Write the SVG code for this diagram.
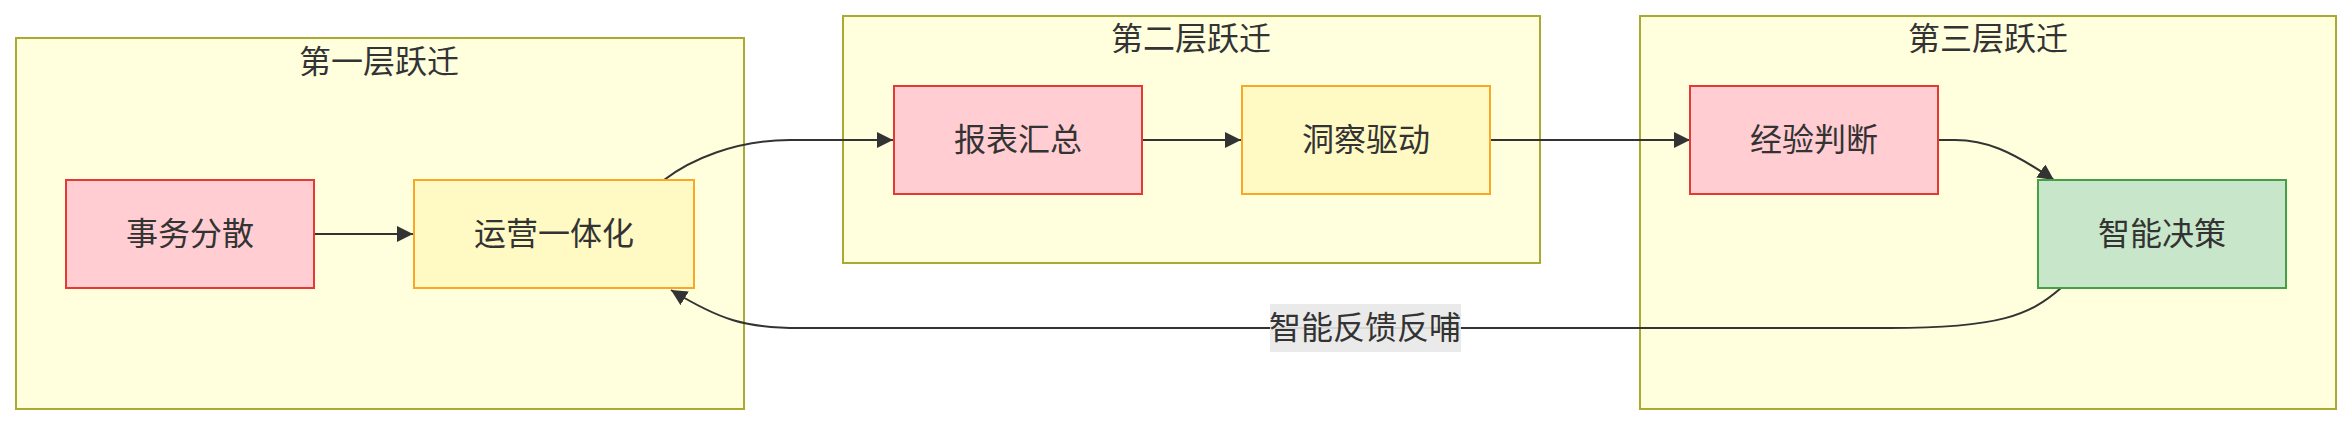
<svg xmlns="http://www.w3.org/2000/svg" width="2352" height="426" viewBox="0 0 2352 426">
<style>
.cluster{fill:#ffffde;stroke:#aaaa33;stroke-width:2}
.t{font-family:"Liberation Sans","Noto Sans CJK SC",sans-serif;font-size:32px;fill:#333;text-anchor:middle;dominant-baseline:central}
.red{fill:#ffcdd2;stroke:#e53935;stroke-width:2}
.yel{fill:#fff9c4;stroke:#f9a825;stroke-width:2}
.grn{fill:#c8e6c9;stroke:#43a047;stroke-width:2}
.edge{fill:none;stroke:#333;stroke-width:2;marker-end:url(#arr)}
</style>
<defs>
<marker id="arr" viewBox="0 0 10 10" refX="10" refY="5" markerUnits="userSpaceOnUse" markerWidth="16" markerHeight="16" orient="auto">
<path d="M0,0 L10,5 L0,10 z" fill="#333"/>
</marker>
</defs>
<rect width="2352" height="426" fill="#fff"/>
<g id="cluster1">
<rect class="cluster" x="16" y="38" width="728" height="371"/>
<text class="t" x="379" y="62">第一层跃迁</text>
</g>
<g id="cluster2">
<rect class="cluster" x="843" y="16" width="697" height="247"/>
<text class="t" x="1191" y="39">第二层跃迁</text>
</g>
<g id="cluster3">
<rect class="cluster" x="1640" y="16" width="696" height="393"/>
<text class="t" x="1988" y="39">第三层跃迁</text>
</g>
<g id="connectors">
<path class="edge" d="M314,234 L413,234"/>
<path class="edge" d="M664,180 C690,160 735,140 790,140 L893,140"/>
<path class="edge" d="M1142,140 L1241,140"/>
<path class="edge" d="M1490,140 L1690,140"/>
<path class="edge" d="M1938,140 L1955,140 C1985,140 2010,150 2054,180"/>
<path class="edge" d="M2061,288 C2030,315 2000,328 1890,328 L800,328 C745,328 720,320 671,290"/>
</g>
<g id="edge-label">
<rect x="1270" y="304" width="191" height="48" fill="#e8e8e8" opacity="0.9"/>
<text class="t" x="1365" y="328">智能反馈反哺</text>
</g>
<g id="n1">
<rect class="red" x="66" y="180" width="248" height="108"/>
<text class="t" x="190" y="234">事务分散</text>
</g>
<g id="n2">
<rect class="yel" x="414" y="180" width="280" height="108"/>
<text class="t" x="554" y="234">运营一体化</text>
</g>
<g id="n3">
<rect class="red" x="894" y="86" width="248" height="108"/>
<text class="t" x="1018" y="140">报表汇总</text>
</g>
<g id="n4">
<rect class="yel" x="1242" y="86" width="248" height="108"/>
<text class="t" x="1366" y="140">洞察驱动</text>
</g>
<g id="n5">
<rect class="red" x="1690" y="86" width="248" height="108"/>
<text class="t" x="1814" y="140">经验判断</text>
</g>
<g id="n6">
<rect class="grn" x="2038" y="180" width="248" height="108"/>
<text class="t" x="2162" y="234">智能决策</text>
</g>
</svg>
